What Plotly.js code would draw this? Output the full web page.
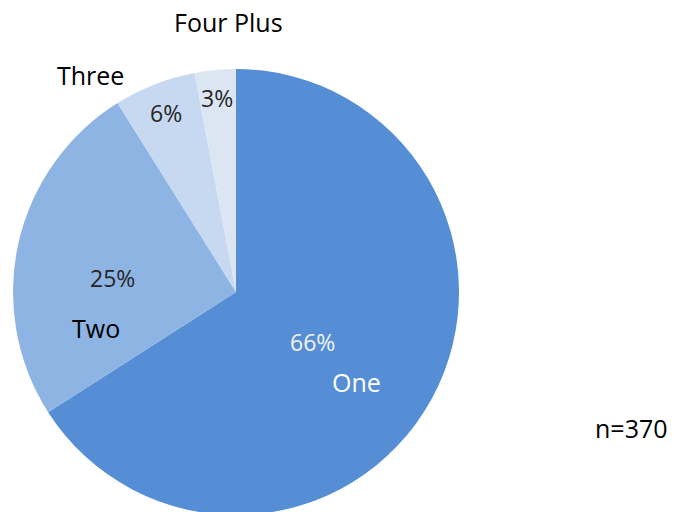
<!DOCTYPE html>
<html>
<head>
<meta charset="utf-8">
<script src="https://cdn.plot.ly/plotly-3.0.1.min.js"></script>
<style>
html,body{margin:0;padding:0;overflow:hidden;background:#fff;}
#chart{width:674px;height:518px;}
</style>
</head>
<body>
<div id="chart"></div>
<script>
// Data
const categories = ["One", "Two", "Three", "Four Plus"];
const counts = [244, 93, 22, 11];
const sampleNote = "n=370";

// Styles
const sliceColors = ["#558ED5", "#8EB4E3", "#C6D9F1", "#DCE6F2"];
const W = 674, H = 518;
const FONT = "Open Sans, Liberation Sans, sans-serif";

const total = counts.reduce((a, b) => a + b, 0);
const pct = counts.map(v => Math.round(v / total * 100) + "%");

// label placement (pixel centers) for percent and category texts
const pctPos = [[312, 342], [113, 278], [166, 113], [217, 98]];
const catPos = [[356, 382], [96, 328], [90, 75], [228, 22]];
const pctColor = ["#F2F2F2", "#262626", "#262626", "#262626"];
const catColor = ["#FFFFFF", "#000000", "#000000", "#000000"];

const px = (x) => x / W;
const py = (y) => (H - y) / H;

const annotations = [];
categories.forEach((c, i) => {
  annotations.push({
    text: pct[i], x: px(pctPos[i][0]), y: py(pctPos[i][1]),
    xref: "paper", yref: "paper", xanchor: "center", yanchor: "middle",
    showarrow: false, font: {family: FONT, size: 23, color: pctColor[i]}
  });
  annotations.push({
    text: c, x: px(catPos[i][0]), y: py(catPos[i][1]),
    xref: "paper", yref: "paper", xanchor: "center", yanchor: "middle",
    showarrow: false, font: {family: FONT, size: 25, color: catColor[i]}
  });
});
annotations.push({
  text: sampleNote, x: px(631), y: py(428),
  xref: "paper", yref: "paper", xanchor: "center", yanchor: "middle",
  showarrow: false, font: {family: FONT, size: 25, color: "#000000"}
});

const trace = {
  type: "pie",
  labels: categories,
  values: counts,
  sort: false,
  direction: "clockwise",
  rotation: 0,
  textinfo: "none",
  hoverinfo: "label+percent",
  marker: {colors: sliceColors, line: {width: 0}},
  domain: {x: [13 / W, 459 / W], y: [3 / H, 449 / H]},
  showlegend: false
};

Plotly.newPlot("chart", [trace], {
  width: W, height: H,
  margin: {l: 0, r: 0, t: 0, b: 0},
  paper_bgcolor: "#ffffff",
  showlegend: false,
  annotations: annotations
}, {staticPlot: true});
</script>
</body>
</html>
